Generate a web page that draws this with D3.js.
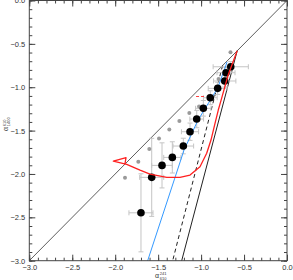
<!DOCTYPE html>
<html>
<head>
<meta charset="utf-8">
<script src="https://cdn.jsdelivr.net/npm/d3@7"></script>
<style>
  html, body { margin: 0; padding: 0; background: #fff; }
  svg { display: block; }
  text { font-family: "Liberation Sans", Arial, sans-serif; fill: #333; }
</style>
</head>
<body>
<script>
// colour-colour diagram of spectral indices

// black points with error bars
const blackX = [-0.655, -0.710, -0.725, -0.807, -0.893, -0.974, -1.051, -1.129, -1.207, -1.335, -1.455, -1.575, -1.700];
const blackY = [-0.764, -0.833, -0.928, -1.013, -1.121, -1.243, -1.367, -1.513, -1.678, -1.809, -1.901, -2.039, -2.448];
const blackXErr = [0.205, 0.105, 0.13, 0.11, 0.08, 0.09, 0.08, 0.10, 0.12, 0.10, 0.12, 0.14, 0.14];
const blackYErr = [0.06, 0.06, 0.07, 0.07, 0.08, 0.09, 0.10, 0.10, 0.09, 0.18, 0.26, 0.45, 0.45];

// grey points
const greyX = [-0.658, -0.797, -0.914, -1.024, -1.137, -1.253, -1.370, -1.490, -1.603, -1.731, -1.886];
const greyY = [-0.597, -0.905, -1.107, -1.223, -1.298, -1.390, -1.488, -1.592, -1.713, -1.859, -2.044];

// red model track
const redX = [-0.58, -0.685, -0.767, -0.800, -0.843, -0.885, -0.935, -1.013, -1.129, -1.246, -1.400, -1.595, -1.711, -1.866, -2.022, -1.874, -1.886];
const redY = [-0.58, -0.859, -1.148, -1.263, -1.436, -1.609, -1.762, -1.917, -2.013, -2.039, -2.039, -2.001, -1.955, -1.889, -1.851, -1.811, -1.880];

// short red dashed piece
const redDashX = [-1.059, -0.943];
const redDashY = [-1.107, -1.107];

// blue model track
const blueX = [-1.622, -1.199, -1.047, -0.966, -0.884, -0.803, -0.710, -0.698];
const blueY = [-3.0, -1.725, -1.402, -1.263, -1.136, -0.998, -0.744, -0.709];

// straight black lines
const diagX = [-3, 0], diagY = [-3, 0];
const solidX = [-0.58, -1.226], solidY = [-0.58, -3];
const dashX = [-0.75, -1.331], dashY = [-0.75, -3];

const majorTicks = [-3.0, -2.5, -2.0, -1.5, -1.0, -0.5, 0.0];
const minorTicks = d3.range(-30, 1).map(d => d / 10);

const width = 293, height = 280;
const padL = 29.3, padR = 287, padT = 0.5, padB = 260.7;

const svg = d3.select("body").append("svg")
    .attr("width", width)
    .attr("height", height);

const x = d3.scaleLinear().domain([-3, 0]).range([padL, padR]);
const y = d3.scaleLinear().domain([-3, 0]).range([padB, padT]);

const zip = (xs, ys) => xs.map((v, i) => [v, ys[i]]);
const line = d3.line().x(d => x(d[0])).y(d => y(d[1]));

const plot = svg.append("g");

plot.append("path").attr("d", line(zip(diagX, diagY)))
    .attr("fill", "none").attr("stroke", "#333").attr("stroke-width", 0.8);
plot.append("path").attr("d", line(zip(solidX, solidY)))
    .attr("fill", "none").attr("stroke", "#222").attr("stroke-width", 1);
plot.append("path").attr("d", line(zip(dashX, dashY)))
    .attr("fill", "none").attr("stroke", "#222").attr("stroke-width", 1)
    .attr("stroke-dasharray", "4,3");

// error bars
const errColor = "#c4c4c4";
const cap = 2.5;
blackX.forEach((bx, i) => {
    const by = blackY[i], ex = blackXErr[i], ey = blackYErr[i];
    const g = plot.append("g").attr("stroke", errColor).attr("stroke-width", 1);
    g.append("line").attr("x1", x(bx - ex)).attr("x2", x(bx + ex)).attr("y1", y(by)).attr("y2", y(by));
    g.append("line").attr("x1", x(bx)).attr("x2", x(bx)).attr("y1", y(by - ey)).attr("y2", y(by + ey));
    g.append("line").attr("x1", x(bx - ex)).attr("x2", x(bx - ex)).attr("y1", y(by) - cap).attr("y2", y(by) + cap);
    g.append("line").attr("x1", x(bx + ex)).attr("x2", x(bx + ex)).attr("y1", y(by) - cap).attr("y2", y(by) + cap);
    g.append("line").attr("x1", x(bx) - cap).attr("x2", x(bx) + cap).attr("y1", y(by - ey)).attr("y2", y(by - ey));
    g.append("line").attr("x1", x(bx) - cap).attr("x2", x(bx) + cap).attr("y1", y(by + ey)).attr("y2", y(by + ey));
});

plot.selectAll("circle.grey").data(zip(greyX, greyY)).join("circle")
    .attr("class", "grey")
    .attr("cx", d => x(d[0])).attr("cy", d => y(d[1]))
    .attr("r", 2).attr("fill", "#9a9a9a");

plot.append("path").attr("d", line(zip(blueX, blueY)))
    .attr("fill", "none").attr("stroke", "#3399ff").attr("stroke-width", 1);

plot.selectAll("circle.black").data(zip(blackX, blackY)).join("circle")
    .attr("class", "black")
    .attr("cx", d => x(d[0])).attr("cy", d => y(d[1]))
    .attr("r", 3.8).attr("fill", "#000");

plot.append("path").attr("d", line(zip(redX, redY)))
    .attr("fill", "none").attr("stroke", "#ff2020").attr("stroke-width", 1.3)
    .attr("stroke-linejoin", "round");
plot.append("path").attr("d", line(zip(redDashX, redDashY)))
    .attr("fill", "none").attr("stroke", "#ff4040").attr("stroke-width", 1)
    .attr("stroke-dasharray", "3,2");

// axes: ticks inward on all four sides
const axisColor = "#444";
function styleAxis(g) {
    g.select(".domain").remove();
    g.selectAll(".tick line").attr("stroke", axisColor);
    g.selectAll(".tick text").attr("fill", "#333").style("font-size", "7.5px")
        .style("font-family", "Liberation Sans, Arial, sans-serif");
}
const fmt = d3.format(".1f");

svg.append("g").attr("transform", `translate(0,${padB})`)
    .call(d3.axisBottom(x).tickValues(minorTicks).tickSize(-3).tickFormat(""))
    .call(styleAxis);
svg.append("g").attr("transform", `translate(0,${padB})`)
    .call(d3.axisBottom(x).tickValues(majorTicks).tickSize(-6).tickPadding(4).tickFormat(fmt))
    .call(styleAxis);
svg.append("g").attr("transform", `translate(0,${padT})`)
    .call(d3.axisTop(x).tickValues(minorTicks).tickSize(-3).tickFormat(""))
    .call(styleAxis);
svg.append("g").attr("transform", `translate(0,${padT})`)
    .call(d3.axisTop(x).tickValues(majorTicks).tickSize(-6).tickFormat(""))
    .call(styleAxis);
svg.append("g").attr("transform", `translate(${padL},0)`)
    .call(d3.axisLeft(y).tickValues(minorTicks).tickSize(-3).tickFormat(""))
    .call(styleAxis);
svg.append("g").attr("transform", `translate(${padL},0)`)
    .call(d3.axisLeft(y).tickValues(majorTicks).tickSize(-6).tickPadding(4).tickFormat(fmt))
    .call(styleAxis);
svg.append("g").attr("transform", `translate(${padR},0)`)
    .call(d3.axisRight(y).tickValues(minorTicks).tickSize(-3).tickFormat(""))
    .call(styleAxis);
svg.append("g").attr("transform", `translate(${padR},0)`)
    .call(d3.axisRight(y).tickValues(majorTicks).tickSize(-6).tickFormat(""))
    .call(styleAxis);

svg.append("rect")
    .attr("x", padL).attr("y", padT)
    .attr("width", padR - padL).attr("height", padB - padT)
    .attr("fill", "none").attr("stroke", axisColor).attr("stroke-width", 1);

// axis titles: alpha with stacked super/subscripts
function alphaLabel(g, sup, sub) {
    g.append("text").attr("x", 0).attr("y", 0).style("font-size", "7px").text("α");
    g.append("text").attr("x", 4.8).attr("y", -2.6).style("font-size", "4px").text(sup);
    g.append("text").attr("x", 4.8).attr("y", 2.0).style("font-size", "4px").text(sub);
}
alphaLabel(svg.append("g").attr("transform", "translate(155,277.5)"), "241", "610");
alphaLabel(svg.append("g").attr("transform", "translate(8.3,131) rotate(-90)"), "610", "1400");
</script>
</body>
</html>
